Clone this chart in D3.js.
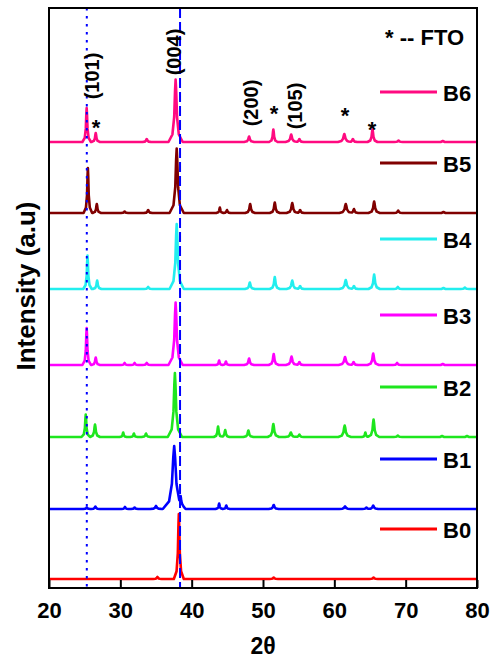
<!DOCTYPE html>
<html><head><meta charset="utf-8">
<script src="https://cdn.jsdelivr.net/npm/d3@7"></script>
<style>html,body{margin:0;padding:0;background:#fff;} svg{display:block}</style>
</head><body><svg id="c" width="491" height="659"></svg>
<script>
// ---------------- DATA ----------------
const xTicks = [20, 30, 40, 50, 60, 70, 80];
const seriesNames = ["B0", "B1", "B2", "B3", "B4", "B5", "B6"];
// vertical offset (baseline) of each stacked pattern, intensity a.u.
const offsets = [9, 79, 151, 223, 299, 375, 446];
// peaks: [2theta, height (a.u.), half base width (deg)]
const peaksB0 = [[38.2, 65, 0.7], [35.2, 2, 0.6], [51.5, 1.5, 0.6], [65.5, 1.5, 0.6]];
const peaksB1 = [[37.55, 63, 1.6], [38.45, 7, 0.45], [25.3, 1.5, 0.5], [26.5, 2.5, 0.6], [30.65, 2, 0.5],
  [32.0, 1.5, 0.5], [35.0, 3, 0.8], [43.85, 5.5, 0.5], [44.85, 3.5, 0.5], [51.5, 4, 0.7],
  [61.5, 2.5, 0.8], [64.5, 1.5, 0.6], [65.45, 3.5, 0.7]];
const peaksB2 = [[37.65, 64, 1.0], [25.15, 22.5, 0.6], [26.45, 12.5, 0.7], [30.4, 4.5, 0.5], [31.9, 3.5, 0.5],
  [33.6, 3.5, 0.6], [43.7, 10.5, 0.6], [44.7, 7, 0.6], [47.95, 6.5, 0.7], [51.45, 13, 0.8],
  [53.9, 4.5, 0.8], [55.1, 2.5, 0.6], [61.45, 11.5, 0.9], [64.35, 4.5, 0.5], [65.5, 17.5, 0.8],
  [68.9, 1.5, 0.6], [75.1, 1, 0.6], [78.6, 1, 0.6]];
const peaksB3 = [[37.75, 62.5, 1.0], [25.28, 37, 0.6], [26.55, 7.5, 0.6], [30.6, 2, 0.5], [32.0, 2, 0.5],
  [33.7, 2, 0.6], [43.85, 4.5, 0.5], [44.8, 3.5, 0.5], [48.05, 6.5, 0.7], [51.5, 11, 0.7],
  [54.0, 8.5, 0.8], [55.1, 3, 0.6], [61.5, 8, 0.9], [62.7, 3, 0.6], [65.45, 11.5, 0.8],
  [68.8, 2, 0.6], [75.2, 1, 0.6]];
const peaksB4 = [[37.9, 65, 1.0], [25.4, 33.5, 0.6], [26.75, 8.5, 0.6], [33.9, 2, 0.6], [48.15, 6.5, 0.7],
  [51.65, 12, 0.7], [54.1, 8.5, 0.8], [55.2, 3, 0.6], [61.6, 9, 0.9], [62.75, 3, 0.6],
  [65.58, 14.5, 0.8], [68.9, 2, 0.6], [75.3, 1, 0.6], [78.3, 1.5, 0.6]];
const peaksB5 = [[37.9, 64.5, 1.0], [25.45, 45, 0.6], [26.7, 9, 0.6], [30.6, 1.5, 0.5], [33.9, 3, 0.6],
  [43.95, 5.5, 0.5], [44.95, 3, 0.5], [48.2, 9, 0.7], [51.65, 10.5, 0.7], [54.1, 10, 0.8],
  [55.2, 3, 0.6], [61.6, 9, 0.9], [62.75, 4, 0.6], [65.58, 11.5, 0.8], [68.95, 2.5, 0.6], [75.3, 1, 0.6]];
const peaksB6 = [[37.75, 62.5, 1.0], [25.28, 34, 0.6], [26.55, 9, 0.6], [33.7, 3, 0.6], [48.05, 5.5, 0.7],
  [51.45, 12.5, 0.6], [53.95, 7.5, 0.8], [55.1, 3, 0.6], [61.4, 8, 0.9], [62.6, 3, 0.6],
  [65.35, 12.5, 0.7], [69.0, 1.5, 0.6], [75.2, 1, 0.6]];
const allPeaks = [peaksB0, peaksB1, peaksB2, peaksB3, peaksB4, peaksB5, peaksB6];
// reference lines (2theta): anatase (101) dotted, (004) dashed
const refDotted = 25.3;
const refDashed = 38.37;
// annotations: [text, 2theta, intensity]
const hklLabels = [["(101)", 26.03, 512], ["(004)", 37.52, 536], ["(200)", 48.32, 485], ["(105)", 54.49, 482]];
const ftoMarks = [[26.59, 466], [51.54, 480], [61.5, 478], [65.28, 464]];
const legendGap = 50;

// ---------------- STYLE ----------------
const colors = ["#ff0000", "#0000ff", "#1ee61e", "#ff00ff", "#22eeee", "#800000", "#ff0a80"];
const FONT = "'Liberation Sans', Arial, Helvetica, sans-serif";

const svg = d3.select("#c");
const M = {l: 49, r: 477, t: 8, b: 588};
const x = d3.scaleLinear().domain([20, 80]).range([M.l, M.r]);
const y = d3.scaleLinear().domain([0, 580]).range([M.b, M.t]);

svg.append("defs").append("clipPath").attr("id", "clip")
  .append("rect").attr("x", M.l).attr("y", M.t).attr("width", M.r - M.l).attr("height", M.b - M.t);

// profile shape of one peak (relative offsets / heights)
const shapeDx = [-1, -0.45, -0.2, -0.08, 0, 0.08, 0.2, 0.45, 1];
const shapeDy = [0, 0.12, 0.4, 0.82, 1, 0.82, 0.4, 0.12, 0];
function peakAt(p, xv) {
  const [c, h, w] = p;
  const t = (xv - c) / w;
  if (t <= -1 || t >= 1) return 0;
  for (let i = 0; i < shapeDx.length - 1; i++) {
    if (t >= shapeDx[i] && t <= shapeDx[i + 1]) {
      const f = (t - shapeDx[i]) / (shapeDx[i + 1] - shapeDx[i]);
      return h * (shapeDy[i] + f * (shapeDy[i + 1] - shapeDy[i]));
    }
  }
  return 0;
}
function buildPoints(peaks, off) {
  const xs = [20, 80];
  peaks.forEach(p => shapeDx.forEach(d => xs.push(p[0] + d * p[2])));
  xs.sort((a, b) => a - b);
  return xs.map(xv => [xv, off + d3.sum(peaks, p => peakAt(p, xv))]);
}

const line = d3.line().x(d => x(d[0])).y(d => y(d[1]));
const plot = svg.append("g").attr("clip-path", "url(#clip)");

allPeaks.forEach((pk, i) => {
  plot.append("path").datum(buildPoints(pk, offsets[i]))
    .attr("d", line).attr("fill", "none").attr("stroke", colors[i])
    .attr("stroke-width", 2.6).attr("stroke-linejoin", "round");
});

// reference lines
plot.append("line").attr("x1", x(refDotted)).attr("x2", x(refDotted))
  .attr("y1", M.t).attr("y2", M.b).attr("stroke", "#0000ff").attr("stroke-width", 2)
  .attr("stroke-dasharray", "2.5,5.5");
plot.append("line").attr("x1", x(refDashed)).attr("x2", x(refDashed))
  .attr("y1", M.t).attr("y2", M.b).attr("stroke", "#0000ff").attr("stroke-width", 2)
  .attr("stroke-dasharray", "10,4");

// legend
seriesNames.forEach((n, i) => {
  const ly = y(offsets[i] + legendGap);
  svg.append("line").attr("x1", 380).attr("x2", 437).attr("y1", ly).attr("y2", ly)
    .attr("stroke", colors[i]).attr("stroke-width", 3);
  svg.append("text").attr("x", 443).attr("y", ly + 9).text(n)
    .attr("font-family", FONT).attr("font-weight", "bold").attr("font-size", 22);
});
svg.append("text").attr("x", 385).attr("y", 45).text("* -- FTO")
  .attr("font-family", FONT).attr("font-weight", "bold").attr("font-size", 22);

// hkl labels
hklLabels.forEach(([t, xv, yv]) => {
  svg.append("text").attr("transform", `translate(${x(xv)},${y(yv)}) rotate(-90)`)
    .attr("text-anchor", "middle").attr("dominant-baseline", "central")
    .attr("font-family", FONT).attr("font-weight", "bold").attr("font-size", 20).text(t);
});
ftoMarks.forEach(([xv, yv]) => {
  svg.append("text").attr("x", x(xv)).attr("y", y(yv) + 12.5).attr("text-anchor", "middle")
    .attr("font-family", FONT).attr("font-weight", "bold").attr("font-size", 22).text("*");
});

// axis
const ax = svg.append("g").attr("transform", `translate(0,${M.b})`)
  .call(d3.axisBottom(x).tickValues(xTicks).tickSizeInner(-8).tickSizeOuter(0).tickPadding(14));
ax.select(".domain").remove();
ax.selectAll(".tick line").attr("stroke", "#000").attr("stroke-width", 2);
ax.selectAll(".tick text").attr("font-family", FONT).attr("font-weight", "bold")
  .attr("font-size", 22).attr("fill", "#000");

// frame
svg.append("rect").attr("x", M.l).attr("y", M.t).attr("width", M.r - M.l).attr("height", M.b - M.t)
  .attr("fill", "none").attr("stroke", "#000").attr("stroke-width", 2);

// axis titles
svg.append("text").attr("x", (M.l + M.r) / 2).attr("y", 654).attr("text-anchor", "middle")
  .attr("font-family", FONT).attr("font-weight", "bold").attr("font-size", 23).text("2θ");
svg.append("text").attr("transform", "translate(35,286) rotate(-90)").attr("text-anchor", "middle")
  .attr("font-family", FONT).attr("font-weight", "bold").attr("font-size", 26).text("Intensity (a.u)");
</script></body></html>
